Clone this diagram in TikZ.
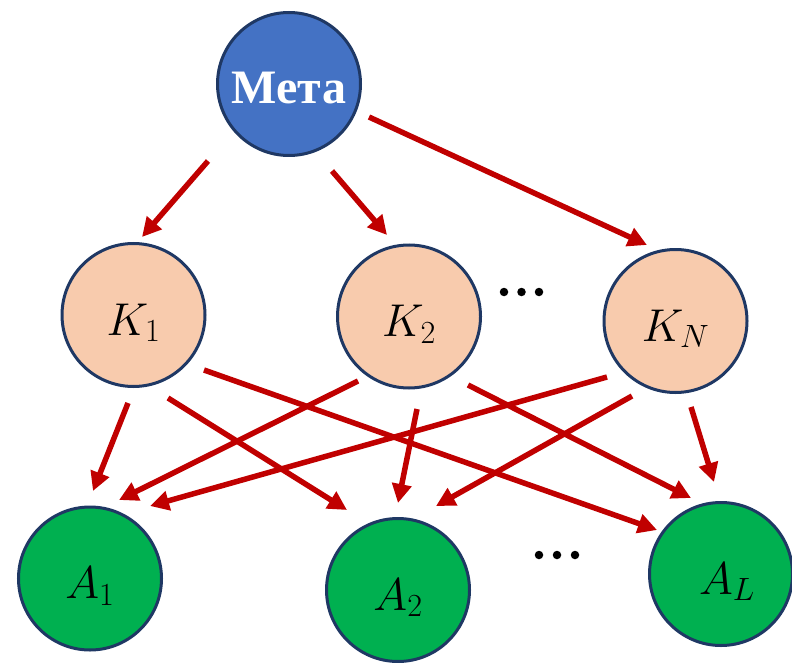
\RequirePackage{fix-cm}
\documentclass[tikz,border=0pt]{standalone}
\usepackage{fontspec}
\newfontfamily\headfont{Liberation Serif}
\usetikzlibrary{arrows.meta}

\definecolor{metablue}{HTML}{4472C4}
\definecolor{kpeach}{HTML}{F8CBAD}
\definecolor{agreen}{HTML}{00B050}
\definecolor{rim}{HTML}{1F3864}
\definecolor{arrowred}{HTML}{C00000}

\tikzset{
  ball/.style={circle, draw=rim, line width=3pt, minimum size=143pt,
    inner sep=0pt, text height=46pt, text depth=6pt,
    font=\fontsize{46}{50}\selectfont},
  metaball/.style={ball, fill=metablue, text=white,
    font=\headfont\bfseries\fontsize{48}{52}\selectfont},
  kball/.style={ball, fill=kpeach},
  aball/.style={ball, fill=agreen},
  link/.style={draw=arrowred, line width=5.5pt,
    -{Triangle[length=19pt, width=19pt]}},
  dot/.style={circle, fill=black, inner sep=0pt, minimum size=8.5pt}
}

\begin{document}
\begin{tikzpicture}[x=1pt, y=-1pt]
  \useasboundingbox (0,0) rectangle (792,663);

  % top node
  \node[metaball] (meta) at (289,84) {Мета};

  % middle layer
  \node[kball] (k1) at (133.5,315) {$K_1$};
  \node[kball] (k2) at (409,316.5) {$K_2$};
  \node[kball] (kn) at (675.5,321) {$K_N$};

  % bottom layer
  \node[aball] (a1) at (90,578.5) {$A_1$};
  \node[aball] (a2) at (398,590) {$A_2$};
  \node[aball] (al) at (721,574) {\hspace{12pt}$A_L$};

  % ellipses between nodes
  \node[dot] (d1) at (504,292) {};
  \node[dot] (d2) at (521.5,292) {};
  \node[dot] (d3) at (539,292) {};
  \node[dot] (e1) at (539,555) {};
  \node[dot] (e2) at (557,555) {};
  \node[dot] (e3) at (575,555) {};

  % connector end points (arrows float free of the circles)
  \coordinate (m-k1-s) at (208,161);  \coordinate (m-k1-e) at (142,237);
  \coordinate (m-k2-s) at (332,171);  \coordinate (m-k2-e) at (387,235);
  \coordinate (m-kn-s) at (369,117);  \coordinate (m-kn-e) at (647,245);

  \coordinate (k1-a1-s) at (128,403); \coordinate (k1-a1-e) at (93,491);
  \coordinate (k1-a2-s) at (168,398); \coordinate (k1-a2-e) at (347,510);
  \coordinate (k1-al-s) at (204,370); \coordinate (k1-al-e) at (657,530);

  \coordinate (k2-a1-s) at (358,381); \coordinate (k2-a1-e) at (119,500);
  \coordinate (k2-a2-s) at (417,409); \coordinate (k2-a2-e) at (398,503);
  \coordinate (k2-al-s) at (468,385); \coordinate (k2-al-e) at (691,498);

  \coordinate (kn-a1-s) at (607,377); \coordinate (kn-a1-e) at (150,506);
  \coordinate (kn-a2-s) at (632,396); \coordinate (kn-a2-e) at (436,506);
  \coordinate (kn-al-s) at (691,407); \coordinate (kn-al-e) at (714,482);

  % connectors
  \foreach \c in {m-k1, m-k2, m-kn,
                  k1-a1, k1-a2, k1-al,
                  k2-a1, k2-a2, k2-al,
                  kn-a1, kn-a2, kn-al}
    \draw[link] (\c-s) -- (\c-e);
\end{tikzpicture}
\end{document}
